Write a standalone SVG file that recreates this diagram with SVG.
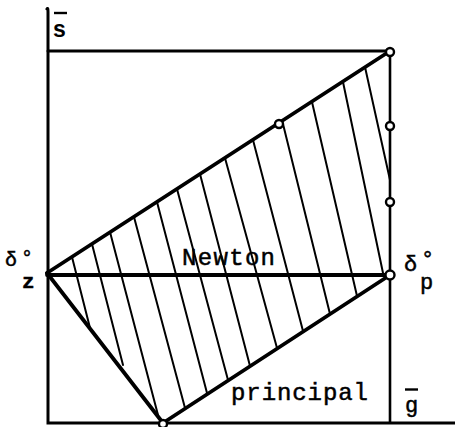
<svg xmlns="http://www.w3.org/2000/svg" width="455" height="427" viewBox="0 0 455 427">
<style>
.ax{stroke:#000;stroke-width:3;fill:none;stroke-linecap:round}
.th{stroke:#000;stroke-width:3.8;fill:none;stroke-linecap:round}
.rv{stroke:#000;stroke-width:2.6;fill:none}
.h{stroke:#000;stroke-width:2;fill:none;stroke-linecap:round}
.pt{fill:#fff;stroke:#000;stroke-width:2.4}
.tw{font-family:"Liberation Mono","DejaVu Sans Mono",monospace;fill:#000;stroke:#000;stroke-width:0.5}
.ob{stroke:#000;stroke-width:2.4}
</style>
<rect width="455" height="427" fill="#fff"/>
<g id="axes">
<path class="ax" d="M47,9 Q48,7 48,12 L48,423 L455,423"/>
<line class="ax" x1="48" y1="51" x2="390" y2="51"/>
<line class="rv" x1="390" y1="51" x2="390" y2="423"/>
</g>
<g id="connectors">
<line class="th" x1="47" y1="273" x2="390" y2="51"/>
<line class="th" x1="47" y1="275" x2="390" y2="275"/>
<line class="th" x1="47" y1="273" x2="163" y2="423"/>
<line class="th" x1="163" y1="423" x2="390" y2="275"/>
</g>
<g id="hatching">
<line class="h" x1="72" y1="257" x2="90" y2="328"/>
<line class="h" x1="92" y1="244" x2="123" y2="365"/>
<line class="h" x1="110" y1="232" x2="158" y2="415"/>
<line class="h" x1="134" y1="217" x2="185" y2="408"/>
<line class="h" x1="157" y1="202" x2="207" y2="393"/>
<line class="h" x1="177" y1="189" x2="228" y2="380"/>
<line class="h" x1="200" y1="174" x2="250" y2="366"/>
<line class="h" x1="225" y1="158" x2="277" y2="348"/>
<line class="h" x1="253" y1="140" x2="303" y2="331"/>
<line class="h" x1="283" y1="124" x2="330" y2="314"/>
<line class="h" x1="312" y1="102" x2="357" y2="296"/>
<line class="h" x1="343" y1="82" x2="383" y2="273"/>
<line class="h" x1="365" y1="67" x2="390" y2="180"/>
</g>
<g id="points">
<circle class="pt" cx="390" cy="52" r="4"/>
<circle class="pt" cx="279" cy="124" r="4"/>
<circle class="pt" cx="390" cy="126" r="4"/>
<circle class="pt" cx="390" cy="202" r="4"/>
<circle class="pt" cx="390" cy="275" r="4.5"/>
<circle class="pt" cx="163" cy="424" r="4"/>
</g>
<g id="label-s">
<line class="ob" x1="54" y1="13" x2="67" y2="13"/>
<text x="53" y="37" font-family="Liberation Sans, Arial, sans-serif" font-weight="bold" font-size="23">s</text>
</g>
<g id="label-newton">
<text class="tw" x="182" y="265" font-size="24" textLength="93" lengthAdjust="spacing">Newton</text>
</g>
<g id="label-principal">
<text class="tw" x="231" y="400" font-size="24" textLength="137" lengthAdjust="spacing">principal</text>
</g>
<g id="label-dz">
<text class="tw" x="5" y="266" font-size="20">δ<tspan x="21" y="264">°</tspan></text>
<text class="tw" x="22" y="288" font-size="21" font-weight="bold">z</text>
</g>
<g id="label-dp">
<text class="tw" x="404" y="271" font-size="22">δ<tspan x="421" y="266">°</tspan></text>
<text class="tw" x="420" y="289" font-size="22">p</text>
</g>
<g id="label-g">
<line class="ob" x1="405" y1="389.5" x2="418" y2="389.5"/>
<text class="tw" x="405" y="412" font-size="22">g</text>
</g>
</svg>
